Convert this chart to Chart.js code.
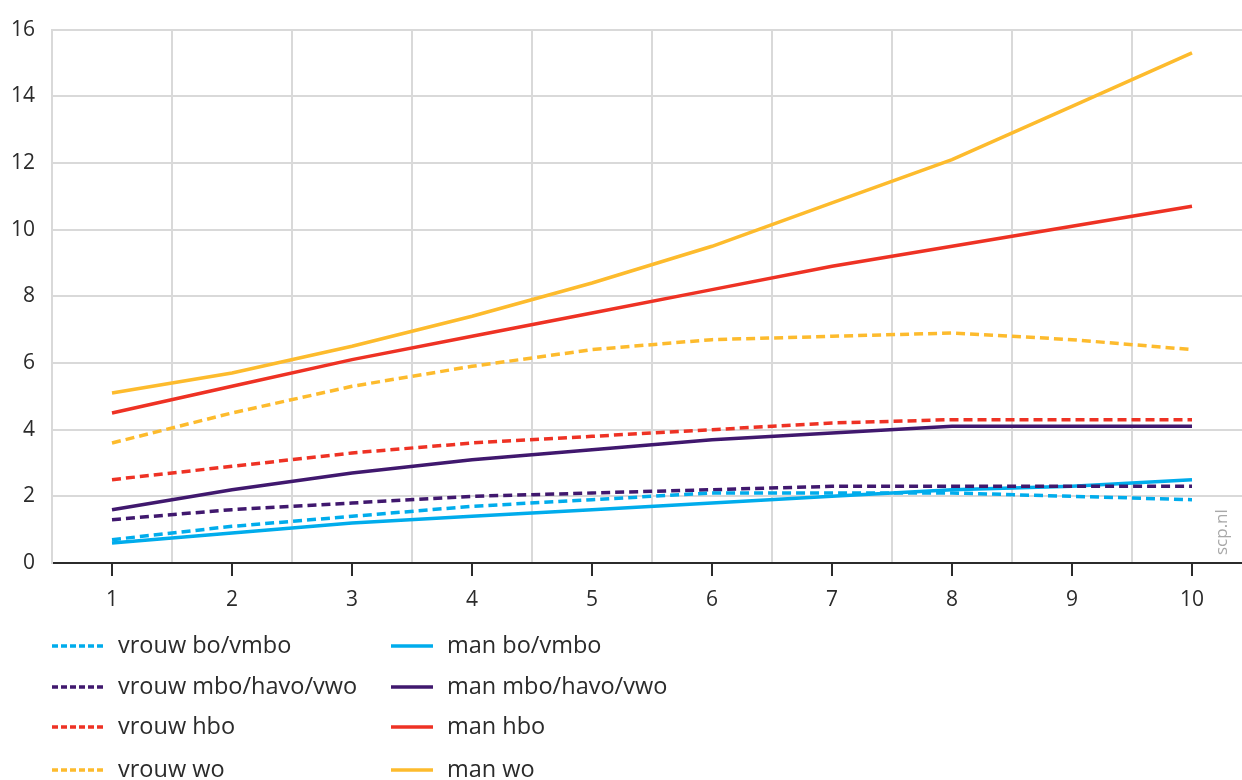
<!DOCTYPE html>
<html>
<head>
<meta charset="utf-8">
<script src="https://cdn.jsdelivr.net/npm/chart.js@4"></script>
<style>
  html, body { margin: 0; padding: 0; background: #fff; overflow: hidden; }
  #wrap { position: relative; width: 1252px; height: 780px; }
</style>
</head>
<body>
<div id="wrap"><canvas id="myChart"></canvas></div>
<script>
const jaren = ['1', '2', '3', '4', '5', '6', '7', '8', '9', '10'];

const vrouwBo  = [0.7, 1.1, 1.4, 1.7, 1.9, 2.1, 2.1, 2.1, 2.0, 1.9];
const vrouwMbo = [1.3, 1.6, 1.8, 2.0, 2.1, 2.2, 2.3, 2.3, 2.3, 2.3];
const vrouwHbo = [2.5, 2.9, 3.3, 3.6, 3.8, 4.0, 4.2, 4.3, 4.3, 4.3];
const vrouwWo  = [3.6, 4.5, 5.3, 5.9, 6.4, 6.7, 6.8, 6.9, 6.7, 6.4];
const manBo    = [0.6, 0.9, 1.2, 1.4, 1.6, 1.8, 2.0, 2.2, 2.3, 2.5];
const manMbo   = [1.6, 2.2, 2.7, 3.1, 3.4, 3.7, 3.9, 4.1, 4.1, 4.1];
const manHbo   = [4.5, 5.3, 6.1, 6.8, 7.5, 8.2, 8.9, 9.5, 10.1, 10.7];
const manWo    = [5.1, 5.7, 6.5, 7.4, 8.4, 9.5, 10.8, 12.1, 13.7, 15.3];

const blauw = 'rgb(0, 172, 236)';
const paars = 'rgb(64, 24, 110)';
const rood = 'rgb(238, 50, 36)';
const geel = 'rgb(253, 187, 45)';
const fontFam = '"Open Sans", "Noto Sans", sans-serif';

function lijn(label, data, kleur, dashed)
{
    return {
        label: label,
        data: data,
        borderColor: kleur,
        backgroundColor: kleur,
        borderWidth: 3.5,
        borderDash: dashed ? [9, 5] : [],
        pointRadius: 0,
        tension: 0,
        fill: false
    };
}

// tick marks under the axis, scp.nl tag and two-column legend
const extras = {
    id: 'extras',
    afterDraw(chart) {
        const ctx = chart.ctx;
        const x = chart.scales.x;
        const area = chart.chartArea;
        ctx.save();
        ctx.strokeStyle = '#2b2b2b';
        ctx.lineWidth = 2;
        for (let i = 0; i < jaren.length; i++) {
            const px = Math.round(x.getPixelForTick(i));
            ctx.beginPath();
            ctx.moveTo(px, area.bottom);
            ctx.lineTo(px, area.bottom + 13);
            ctx.stroke();
        }

        ctx.translate(1222, area.bottom - 8);
        ctx.rotate(-Math.PI / 2);
        ctx.fillStyle = '#a8a8a8';
        ctx.font = '17px ' + fontFam;
        ctx.textAlign = 'left';
        ctx.textBaseline = 'middle';
        ctx.fillText('scp.nl', 0, 0);
        ctx.restore();

        const rows = [646, 687, 727, 770];
        const cols = [
            { x: 52, len: 53, text: 118 },
            { x: 391, len: 42, text: 447 }
        ];
        ctx.save();
        ctx.font = '23.5px ' + fontFam;
        ctx.textBaseline = 'middle';
        chart.data.datasets.forEach(function (ds, i) {
            const c = cols[Math.floor(i / 4)];
            const cy = rows[i % 4];
            ctx.strokeStyle = ds.borderColor;
            ctx.lineWidth = 3.5;
            ctx.setLineDash(ds.borderDash.length ? [6, 3] : []);
            ctx.beginPath();
            ctx.moveTo(c.x, cy);
            ctx.lineTo(c.x + c.len, cy);
            ctx.stroke();
            ctx.setLineDash([]);
            ctx.fillStyle = '#2b2b2b';
            ctx.fillText(ds.label, c.text, cy);
        });
        ctx.restore();
    }
};

function drawChart()
{
    const data = {
        labels: jaren,
        datasets: [
            lijn('vrouw bo/vmbo', vrouwBo, blauw, true),
            lijn('vrouw mbo/havo/vwo', vrouwMbo, paars, true),
            lijn('vrouw hbo', vrouwHbo, rood, true),
            lijn('vrouw wo', vrouwWo, geel, true),
            lijn('man bo/vmbo', manBo, blauw, false),
            lijn('man mbo/havo/vwo', manMbo, paars, false),
            lijn('man hbo', manHbo, rood, false),
            lijn('man wo', manWo, geel, false)
        ]
    };

    const config = {
        type: 'line',
        data: data,
        plugins: [extras],
        options: {
            responsive: true,
            maintainAspectRatio: false,
            animation: false,
            layout: { padding: { top: 27, left: 0, right: 0, bottom: 0 } },
            plugins: {
                legend: { display: false },
                tooltip: { enabled: false }
            },
            scales: {
                x: {
                    offset: true,
                    grid: { offset: true, color: '#d9d9d9', lineWidth: 2, drawTicks: false },
                    border: { color: '#2b2b2b', width: 2 },
                    ticks: {
                        padding: 24,
                        color: '#2b2b2b',
                        font: { size: 21, family: fontFam },
                        maxRotation: 0
                    },
                    afterFit(scale) { scale.height = 217; }
                },
                y: {
                    min: 0,
                    max: 16,
                    grid: { color: '#d9d9d9', lineWidth: 2, drawTicks: false },
                    border: { color: '#d9d9d9', width: 2 },
                    ticks: {
                        stepSize: 2,
                        padding: 17,
                        color: '#2b2b2b',
                        font: { size: 21, family: fontFam }
                    },
                    afterFit(scale) { scale.width = 52; }
                }
            }
        }
    };

    const myChart = new Chart(document.getElementById('myChart'), config);
}

window.onload = drawChart;
</script>
</body>
</html>
